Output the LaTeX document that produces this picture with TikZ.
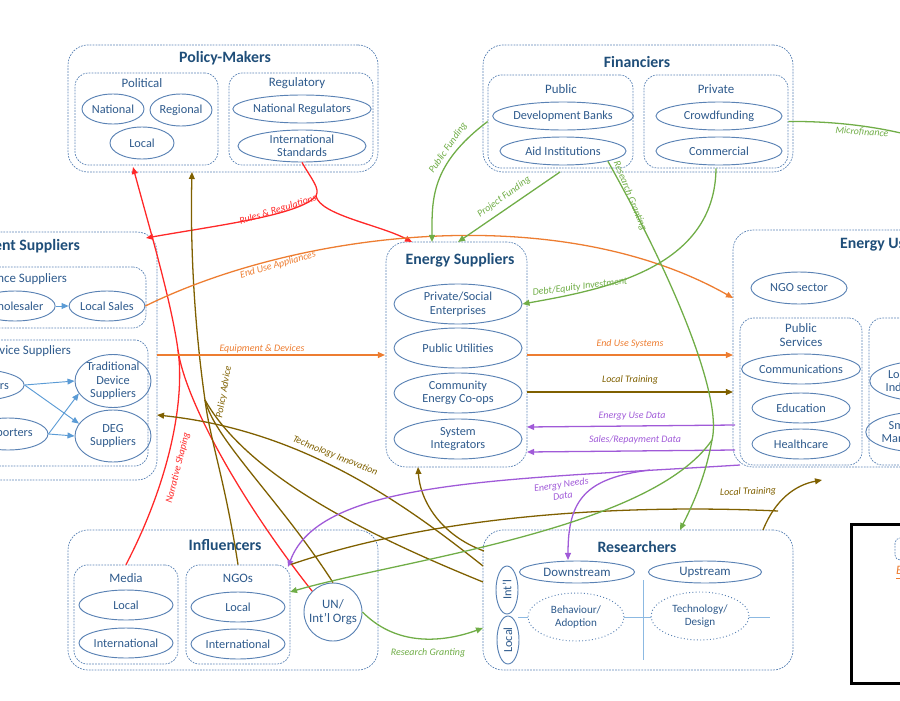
\documentclass[tikz,border=0pt]{standalone}
\usepackage{fontspec}
\setmainfont{Carlito}
\usetikzlibrary{shapes.geometric,arrows.meta,fit,positioning}
\definecolor{boxblue}{HTML}{5A82B4}
\definecolor{txtblue}{HTML}{2E5A8C}
\definecolor{ttlblue}{HTML}{1F4E79}
\definecolor{redarr}{HTML}{FF2828}
\definecolor{olivearr}{HTML}{7F6000}
\definecolor{orangearr}{HTML}{ED7D31}
\definecolor{greenarr}{HTML}{70AD47}
\definecolor{purplearr}{HTML}{A05AD8}
\definecolor{lightarr}{HTML}{5B9BD5}
\tikzset{
  grp/.style={draw=boxblue,line width=0.6pt,dash pattern=on 1.5pt off 1pt,rounded corners=0.6cm,inner sep=0pt},
  sub/.style={grp,rounded corners=0.4cm},
  ell/.style={draw=boxblue,ellipse,line width=0.8pt,text=txtblue,inner sep=0pt,align=center,font=\fontsize{10.5}{11.5}\selectfont},
  ttl/.style={font=\fontsize{13.5}{15}\selectfont\bfseries,text=ttlblue},
  hdr/.style={font=\fontsize{11}{12}\selectfont,text=txtblue,align=center},
  lbl/.style={font=\fontsize{8.5}{9.5}\selectfont\itshape,inner sep=1pt,align=center},
  line/.style={line width=1.1pt},
  flow/.style={line width=1.1pt,-{Triangle[length=6pt,width=5pt]}},
}
\begin{document}
\begin{tikzpicture}[x=0.03cm,y=-0.03cm]
\useasboundingbox (0,0) rectangle (900,700);
\clip (0,0) rectangle (900,700);
% group boxes
\node[grp,fit={(68,45) (378,172)}] (pm) {};
\node[sub,fit={(75,73) (218,165)}] (pol) {};
\node[sub,fit={(229,73) (373,165)}] (reg) {};
\node[grp,fit={(483,45) (793,172)}] (fin) {};
\node[sub,fit={(488,75) (633,168)}] (pub) {};
\node[sub,fit={(644,75) (788,168)}] (pri) {};
\node[grp,fit={(-100,232) (157,480)}] (eq) {};
\node[sub,fit={(-100,267) (146,328)}] (app) {};
\node[sub,fit={(-100,340) (148,466)}] (dev) {};
\node[grp,fit={(386,242) (527,467)}] (es) {};
\node[grp,fit={(733,230) (1000,467)}] (eu) {};
\node[sub,fit={(740,318) (862,465)}] (ps) {};
\node[sub,fit={(869,318) (1000,465)}] (ind) {};
\node[grp,fit={(68,530) (378,670)}] (inf) {};
\node[sub,fit={(74,565) (178,664)}] (med) {};
\node[sub,fit={(186,565) (290,664)}] (ngo) {};
\node[grp,fit={(483,530) (793,670)}] (res) {};
\node[draw=black,line width=2.5pt,fit={(855,528) (1000,680)}] (leg) {};
\node[sub,rounded corners=0.15cm,fit={(895,538) (912,560)}] (legbox) {};
\node[anchor=west,text=orangearr,font=\fontsize{11}{12}\selectfont\itshape] (legtxt) at (892,573) {\underline{Energy}};
% titles
\node[ttl] (pmt) at (225,58) {Policy-Makers};
\node[hdr] (polt) at (142,83) {Political};
\node[hdr] (regt) at (297,83) {Regulatory};
\node[ttl] (fint) at (637,62) {Financiers};
\node[hdr] (pubt) at (561,89) {Public};
\node[hdr] (prit) at (716,89) {Private};
\node[ttl,anchor=east] (eqt) at (84,246) {Equipment Suppliers};
\node[hdr,anchor=east] (appt) at (71,279) {Appliance Suppliers};
\node[hdr,anchor=east] (devt) at (75,351) {Device Suppliers};
\node[ttl] (est) at (460,260) {Energy Suppliers};
\node[ttl,anchor=west] (eut) at (836,245) {Energy Users};
\node[hdr] (pst) at (801,335) {Public\\Services};
\node[ttl] (inft) at (225,545) {Influencers};
\node[hdr] (medt) at (126,578) {Media};
\node[hdr] (ngot) at (238,578) {NGOs};
\node[ttl] (rest) at (637,547) {Researchers};
% members
\node[ell,minimum width=1.86cm,minimum height=0.9cm] (nat) at (113,109) {National};
\node[ell,minimum width=1.86cm,minimum height=0.96cm] (regl) at (181,110) {Regional};
\node[ell,minimum width=1.92cm,minimum height=0.96cm] (loc) at (142,143) {Local};
\node[ell,minimum width=3.84cm,minimum height=0.84cm] (natreg) at (302,109) {National Regulators};
\node[ell,minimum width=3.84cm,minimum height=0.96cm] (intstd) at (302,146) {International\\Standards};
\node[ell,minimum width=3.78cm,minimum height=0.84cm] (devb) at (563,116) {Development Banks};
\node[ell,minimum width=3.78cm,minimum height=0.84cm] (aid) at (563,151) {Aid Institutions};
\node[ell,minimum width=3.78cm,minimum height=0.84cm] (crowd) at (719,116) {Crowdfunding};
\node[ell,minimum width=3.78cm,minimum height=0.84cm] (comm) at (719,151) {Commercial};
\node[ell,minimum width=2.1cm,minimum height=0.9cm] (whole) at (15,306) {Wholesaler};
\node[ell,minimum width=2.1cm,minimum height=0.9cm] (lsales) at (107,306) {Local Sales};
\node[ell,minimum width=2.4cm,minimum height=0.96cm] (manuf) at (-28,385) {Manufacturers};
\node[ell,minimum width=2.4cm,minimum height=0.96cm] (imp) at (8,434) {Importers};
\node[ell,minimum width=2.28cm,minimum height=1.56cm] (trad) at (113,381) {Traditional\\Device\\Suppliers};
\node[ell,minimum width=2.28cm,minimum height=1.56cm] (deg) at (113,436) {DEG\\Suppliers};
\node[ell,minimum width=3.84cm,minimum height=1.2cm] (pse) at (458,304) {Private/Social\\Enterprises};
\node[ell,minimum width=3.84cm,minimum height=1.2cm] (pu) at (458,348) {Public Utilities};
\node[ell,minimum width=3.84cm,minimum height=1.2cm] (coop) at (458,393) {Community\\Energy Co-ops};
\node[ell,minimum width=3.84cm,minimum height=1.2cm] (sint) at (458,439) {System\\Integrators};
\node[ell,minimum width=2.88cm,minimum height=0.96cm] (ngos) at (799,288) {NGO sector};
\node[ell,minimum width=2.94cm,minimum height=0.9cm] (comms) at (801,369) {Communications};
\node[ell,minimum width=2.94cm,minimum height=0.9cm] (edu) at (801,408) {Education};
\node[ell,minimum width=2.94cm,minimum height=0.9cm] (health) at (801,444) {Healthcare};
\node[ell,minimum width=2.6cm,minimum height=1.2cm,text width=2.3cm,align=left] (lind) at (924,381) {\hspace*{2pt}Local\\Industries};
\node[ell,minimum width=2.6cm,minimum height=1.2cm,text width=2.3cm,align=left] (sman) at (920,432) {\hspace*{6pt}Small\\Manufacturers};
\node[ell,minimum width=2.82cm,minimum height=0.9cm] (mloc) at (126,605) {Local};
\node[ell,minimum width=2.82cm,minimum height=0.9cm] (mint) at (126,643) {International};
\node[ell,minimum width=2.82cm,minimum height=0.9cm] (nloc) at (238,607) {Local};
\node[ell,minimum width=2.82cm,minimum height=0.9cm] (nint) at (238,644) {International};
\node[ell,circle,minimum size=1.74cm,font=\fontsize{11}{12}\selectfont] (un) at (333,612) {UN/\\Int'l Orgs};
\node[ell,minimum width=3.45cm,minimum height=0.66cm,font=\fontsize{11}{12}\selectfont] (down) at (577,572) {Downstream};
\node[ell,minimum width=3.39cm,minimum height=0.66cm,font=\fontsize{11}{12}\selectfont] (up) at (705,572) {Upstream};
\node[ell,rotate=90,minimum width=1.44cm,minimum height=0.66cm] (rint) at (507,590) {Int'l};
\node[ell,rotate=90,minimum width=1.44cm,minimum height=0.66cm] (rloc) at (508,640) {Local};
\draw[lightarr!70,line width=0.8pt] (643,580) -- (643,660) (518,617) -- (770,617);
\node[ell,dotted,fill=white,minimum width=2.88cm,minimum height=1.44cm,font=\fontsize{9.5}{10.5}\selectfont] (beh) at (576,617) {Behaviour/\\Adoption};
\node[ell,dotted,fill=white,minimum width=2.94cm,minimum height=1.44cm,font=\fontsize{9.5}{10.5}\selectfont] (tech) at (700,616) {Technology/\\Design};
% supply chains
\draw[flow,lightarr,line width=0.8pt] (whole) -- (lsales);
\draw[flow,lightarr,line width=0.8pt] (manuf.east) -- (trad.west);
\draw[flow,lightarr,line width=0.8pt] (manuf.east) -- (deg.160);
\draw[flow,lightarr,line width=0.8pt] (imp.east) -- (trad.200);
\draw[flow,lightarr,line width=0.8pt] (imp.east) -- (deg.west);
% red flows
\coordinate (rr) at (316,196);
\draw[line,redarr] (intstd.south) .. controls (312,180) and (320,188) .. (rr);
\draw[flow,redarr] (rr) .. controls (300,215) and (220,225) .. (146,238);
\draw[flow,redarr] (rr) .. controls (320,215) and (380,225) .. (412,242);
\node[lbl,text=redarr,rotate=17] (rrl) at (278,210) {Rules \& Regulations};
\coordinate (rs) at (178,350);
\draw[flow,redarr] (med.north) .. controls (170,480) and (185,400) .. (rs) .. controls (171,300) and (150,230) .. (133,167);
\draw[line,redarr] (un.north west) .. controls (240,500) and (185,400) .. (rs);
\node[lbl,text=redarr,rotate=76] (nsl) at (178,468) {Narrative Shaping};
% olive flows
\coordinate (pa) at (205,400);
\draw[flow,olivearr] (ngo.north) .. controls (225,480) and (210,440) .. (pa) .. controls (195,330) and (190,250) .. (192,172);
\draw[line,olivearr] (un.north) .. controls (280,500) and (215,440) .. (pa);
\draw[line,olivearr] (483,582) .. controls (380,540) and (250,480) .. (pa);
\node[lbl,text=olivearr,rotate=80] (pal) at (224,392) {Policy Advice};
\draw[flow,olivearr] (483,566) .. controls (400,500) and (300,430) .. (157,415);
\node[lbl,text=olivearr,rotate=-22] (til) at (335,456) {Technology Innovation};
\draw[flow,olivearr] (484,551) .. controls (440,535) and (420,500) .. (418,467);
\coordinate (lt) at (778,511);
\draw[line,olivearr] (ngo.north east) .. controls (450,510) and (650,505) .. (lt);
\draw[flow,olivearr] (763,530) .. controls (775,500) and (795,485) .. (822,480);
\node[lbl,text=olivearr,rotate=2] (ltl) at (748,492) {Local Training};
\draw[flow,olivearr] (527,392) -- (733,392);
\node[lbl,text=olivearr] (lt2) at (630,380) {Local Training};
% orange flows
\draw[flow,orangearr] (lsales.east) .. controls (300,230) and (560,200) .. (733,298);
\node[lbl,text=orangearr,rotate=16] (eal) at (278,265) {End Use Appliances};
\draw[flow,orangearr] (157,355) -- (385,355);
\node[lbl,text=orangearr] (edl) at (262,349) {Equipment \& Devices};
\draw[flow,orangearr] (527,355) -- (733,355);
\node[lbl,text=orangearr] (eusl) at (630,344) {End Use Systems};
% purple flows
\draw[flow,purplearr] (735,425) -- (527,427);
\node[lbl,text=purplearr] (eudl) at (632,416) {Energy Use Data};
\draw[flow,purplearr] (735,450) -- (527,452);
\node[lbl,text=purplearr] (srl) at (635,440) {Sales/Repayment Data};
\draw[flow,purplearr] (740,465) .. controls (500,480) and (320,480) .. (288,567);
\draw[flow,purplearr] (650,470) .. controls (585,478) and (568,500) .. (568,560);
\node[lbl,text=purplearr,rotate=8] (endl) at (562,490) {Energy Needs\\Data};
% green flows
\draw[flow,greenarr] (pub.west) .. controls (430,165) and (432,200) .. (432,242);
\node[lbl,text=greenarr,rotate=55] (pfl) at (448,148) {Public Funding};
\draw[flow,greenarr] (560,172) -- (458,242);
\node[lbl,text=greenarr,rotate=36] (prfl) at (504,197) {Project Funding};
\coordinate (rg) at (712,440);
\draw[line,greenarr] (aid.south east) .. controls (680,290) and (722,400) .. (rg);
\draw[flow,greenarr] (rg) .. controls (705,480) and (690,510) .. (680,530);
\draw[flow,greenarr] (rg) .. controls (650,530) and (400,560) .. (290,592);
\node[lbl,text=greenarr,rotate=-68] (rgl) at (630,196) {Research Granting};
\draw[flow,greenarr] (pri.south) .. controls (715,270) and (600,290) .. (pse.east);
\node[lbl,text=greenarr,rotate=7] (del) at (580,287) {Debt/Equity Investment};
\draw[line,greenarr] (pri.east) .. controls (840,121) and (880,128) .. (905,134);
\node[lbl,text=greenarr,rotate=-4] (mfl) at (862,132) {Microfinance};
\draw[flow,greenarr] (un.east) .. controls (400,650) and (450,640) .. (483,628);
\node[lbl,text=greenarr] (rg2l) at (428,653) {Research Granting};
\end{tikzpicture}
\end{document}
